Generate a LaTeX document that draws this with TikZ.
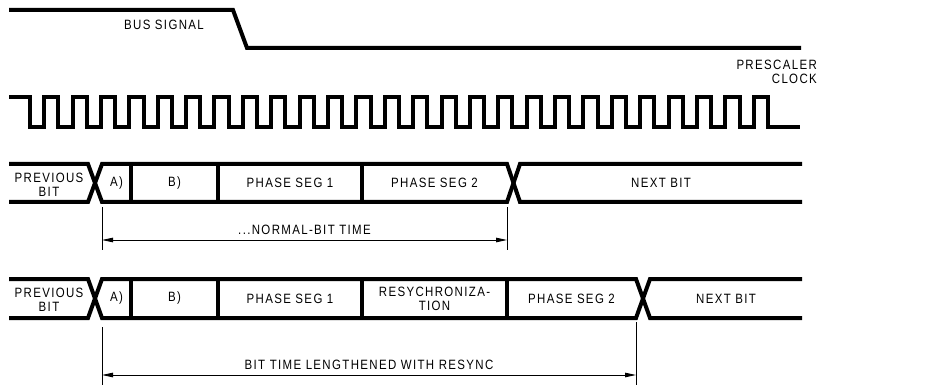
\documentclass[tikz,border=0pt]{standalone}
\usepackage{fontspec}
\newfontfamily\drawfont[LetterSpace=10,FakeStretch=0.85]{Liberation Sans}
\usepackage{tikz}
\usetikzlibrary{
    arrows.meta,
    calc
}
\tikzstyle{signal} = [
    line width=4pt,
    draw=black
]
\tikzstyle{dimline} = [
    line width=0.9pt,
    draw=black
]
\tikzstyle{dimarrow} = [
    <->,
    >={Triangle[length=11pt,width=4.5pt]},
    line width=0.9pt
]
\tikzstyle{lbl} = [
    font=\drawfont\fontsize{13.5}{13.5}\selectfont,
    align=center,
    inner sep=0pt
]

\begin{document}
\begin{tikzpicture}[x=1pt, y=-1pt]
        \useasboundingbox (0,0) rectangle (941,387);
        \def\clkP{28.38}

        % Bus signal
        \draw[signal] (9,10) -- (233,10) -- (247,48) -- (801,48);
        \node[lbl] (bus) at (164,24.5) {BUS SIGNAL};

        % Prescaler clock
        \node[lbl, anchor=east, align=right] (clk) at (817,72) {PRESCALER\\CLOCK};
        \draw[signal] (9,97) -- (30,97) -- (30,127)
            \foreach \k in {0,...,25} {
                -- ({30+\k*\clkP+\clkP/2},127) -- ({30+\k*\clkP+\clkP/2},97)
                -- ({30+(\k+1)*\clkP},97) -- ({30+(\k+1)*\clkP},127)
            } -- (800,127);

        % Normal bit time
        \draw[signal] (9,164) -- (88,164) -- (102,202) -- (507,202) -- (520,164) -- (802,164);
        \draw[signal] (9,202) -- (88,202) -- (102,164) -- (507,164) -- (520,202) -- (802,202);
        \foreach \x in {131,218,362}
            \draw[signal] (\x,164) -- (\x,202);
        \node[lbl] (prevA) at (49,185) {PREVIOUS\\BIT};
        \node[lbl] (segA) at (116.5,183) {A)};
        \node[lbl] (segB) at (174.5,183) {B)};
        \node[lbl] (phaseA) at (290,183) {PHASE SEG 1};
        \node[lbl] (phaseB) at (434.5,183) {PHASE SEG 2};
        \node[lbl] (nextA) at (661,183) {NEXT BIT};

        % Normal bit time dimension
        \coordinate (normL) at (102,240);
        \coordinate (normR) at (507,240);
        \draw[dimline] (102,207) -- (102,250);
        \draw[dimline] (507,207) -- (507,250);
        \draw[dimarrow] (normL) -- (normR);
        \node[lbl] (normT) at (304.5,230) {...NORMAL-BIT TIME};

        % Lengthened bit time
        \draw[signal] (9,279) -- (88,279) -- (102,318) -- (636,318) -- (650,279) -- (802,279);
        \draw[signal] (9,318) -- (88,318) -- (102,279) -- (636,279) -- (650,318) -- (802,318);
        \foreach \x in {131,218,362,507}
            \draw[signal] (\x,279) -- (\x,318);
        \node[lbl] (prevB) at (49,300) {PREVIOUS\\BIT};
        \node[lbl] (segC) at (116.5,298.5) {A)};
        \node[lbl] (segD) at (174.5,298.5) {B)};
        \node[lbl] (phaseC) at (290,298.5) {PHASE SEG 1};
        \node[lbl] (resync) at (434.5,299) {RESYCHRONIZA-\\TION};
        \node[lbl] (phaseD) at (571.5,298.5) {PHASE SEG 2};
        \node[lbl] (nextB) at (726,298.5) {NEXT BIT};

        % Lengthened bit time dimension
        \coordinate (longL) at (102,375);
        \coordinate (longR) at (636,375);
        \draw[dimline] (102,327) -- (102,385);
        \draw[dimline] (636,322) -- (636,385);
        \draw[dimarrow] (longL) -- (longR);
        \node[lbl] (longT) at (369,365) {BIT TIME LENGTHENED WITH RESYNC};
    \end{tikzpicture}
\end{document}
